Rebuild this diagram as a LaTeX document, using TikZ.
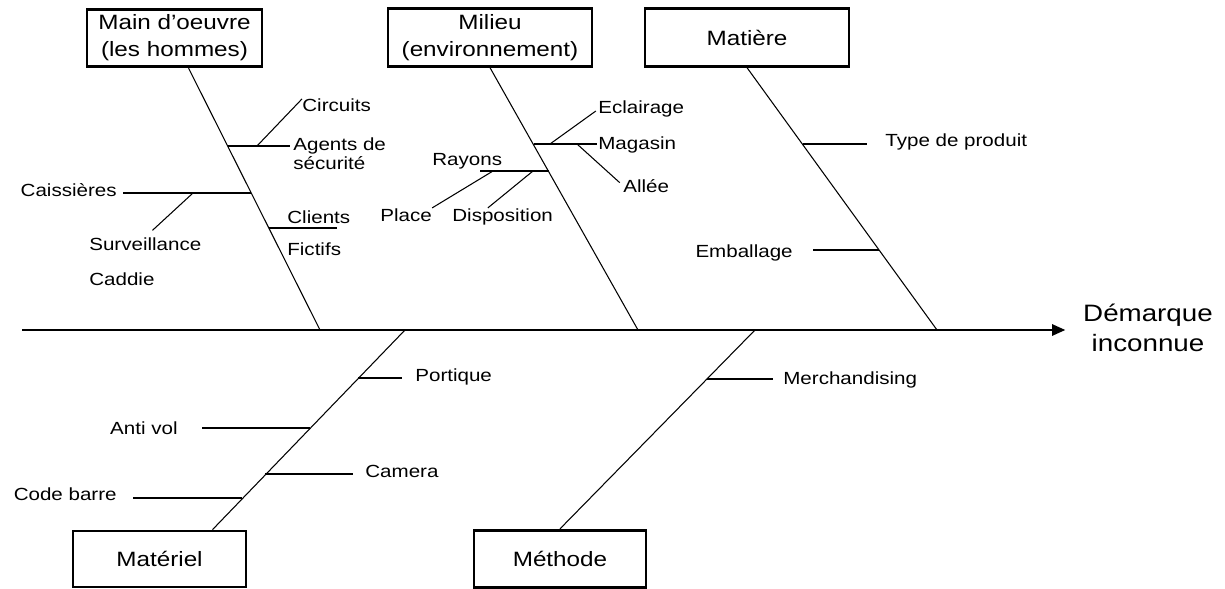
\documentclass[tikz,border=0pt]{standalone}
\usepackage{fontspec}
\setmainfont{Liberation Sans}[FakeStretch=1.17]
\usetikzlibrary{arrows.meta}

\begin{document}
\begin{tikzpicture}[
		cause/.style={draw, line width=1.6pt, inner sep=0pt, minimum height=1.15cm, align=center, font=\fontsize{11.8}{15.4}\selectfont},
		lbl/.style={inner sep=0pt, font=\fontsize{10}{10.8}\selectfont},
		bone/.style={line width=0.6pt},
		spine/.style={line width=0.9pt, -{Triangle[length=7.5pt,width=6.5pt]}}
	]
	\useasboundingbox (0,0) rectangle (24.5,-11.78);

	\node[cause, minimum width=3.5cm] (main) at (3.49,-0.76) {Main d'oeuvre\\(les hommes)};
	\node[cause, minimum width=4.08cm] (milieu) at (9.8,-0.75) {Milieu\\(environnement)};
	\node[cause, minimum width=4.08cm] (matiere) at (14.94,-0.75) {Matière};
	\node[cause, minimum width=3.46cm, minimum height=1.12cm] (materiel) at (3.19,-11.18) {Matériel};
	\node[cause, minimum width=3.44cm] (methode) at (11.2,-11.18) {Méthode};
	\node[lbl, font=\fontsize{13.5}{17}\selectfont, align=center, anchor=north] (demarque) at (22.96,-6.08) {Démarque\\inconnue};

	\coordinate (tail) at (0.44,-6.6);
	\coordinate (s1) at (6.4,-6.6);
	\coordinate (s2) at (12.76,-6.6);
	\coordinate (s3) at (18.74,-6.6);
	\coordinate (s4) at (8.1,-6.6);
	\coordinate (s5) at (15.1,-6.6);
	\draw[spine, shorten >=10pt] (tail) -- (tail -| demarque.west);
	\draw[bone] (main.-65) -- (s1);
	\draw[bone] (milieu.south) -- (s2);
	\draw[bone] (matiere.south) -- (s3);
	\draw[bone] (materiel.29) -- (s4);
	\draw[bone] (methode.north) -- (s5);

	\node[lbl, anchor=base west] (circuits) at (6.04,-2.24) {Circuits};
	\node[lbl, anchor=north west, align=left] (agents) at (5.86,-2.75) {Agents de\\sécurité};
	\node[lbl, anchor=base east] (caissieres) at (2.34,-3.94) {Caissières};
	\node[lbl, anchor=base west] (surveillance) at (1.78,-5.0) {Surveillance};
	\node[lbl, anchor=base west] (caddie) at (1.78,-5.7) {Caddie};
	\node[lbl, anchor=base west] (clients) at (5.74,-4.46) {Clients};
	\node[lbl, anchor=base west] (fictifs) at (5.74,-5.1) {Fictifs};
	\coordinate (m1) at (4.554,-2.92);
	\coordinate (c1) at (5.14,-2.92);
	\coordinate (m2) at (5.024,-3.86);
	\coordinate (sv) at (3.86,-3.86);
	\coordinate (m3) at (5.376,-4.56);
	\draw[bone, shorten >=1.7pt] (m1) -- (m1 -| agents.west);
	\draw[bone] (c1) -- (circuits.north west);
	\draw[bone, shorten >=3.4pt] (m2) -- (m2 -| caissieres.east);
	\draw[bone, shorten >=5.5pt] (sv) -- (surveillance.north);
	\draw[bone, shorten >=2.5pt] (m3) -- (m3 -| fictifs.east);

	\node[lbl, anchor=base west] (eclairage) at (11.96,-2.28) {Eclairage};
	\node[lbl, anchor=base west] (magasin) at (11.96,-3.0) {Magasin};
	\node[lbl, anchor=base west] (allee) at (12.46,-3.84) {Allée};
	\node[lbl, anchor=base west] (rayons) at (8.64,-3.3) {Rayons};
	\node[lbl, anchor=base west] (place) at (7.6,-4.42) {Place};
	\node[lbl, anchor=base west] (disposition) at (9.04,-4.42) {Disposition};
	\coordinate (e1) at (10.674,-2.88);
	\coordinate (e1a) at (11.0,-2.88);
	\coordinate (e1b) at (11.54,-2.88);
	\coordinate (e2) at (10.978,-3.42);
	\coordinate (e2w) at (9.6,-3.42);
	\coordinate (e2a) at (9.86,-3.42);
	\coordinate (e2b) at (10.66,-3.42);
	\draw[bone, shorten >=0.5pt] (e1) -- (e1 -| magasin.west);
	\draw[bone, shorten >=1.5pt] (e1a) -- (eclairage.west);
	\draw[bone, shorten >=2.5pt] (e1b) -- (allee.west);
	\draw[bone] (e2) -- (e2w);
	\draw[bone] (e2a) -- (place.north east);
	\draw[bone] (e2b) -- (disposition.150);

	\node[lbl, anchor=base west] (typeprod) at (17.7,-2.92) {Type de produit};
	\node[lbl, anchor=base east] (emballage) at (15.86,-5.14) {Emballage};
	\coordinate (t1) at (16.062,-2.88);
	\coordinate (t2) at (17.588,-5.0);
	\draw[bone, shorten >=10.2pt] (t1) -- (t1 -| typeprod.west);
	\draw[bone, shorten >=11.4pt] (t2) -- (t2 -| emballage.east);

	\node[lbl, anchor=base west] (portique) at (8.3,-7.62) {Portique};
	\node[lbl, anchor=base east] (antivol) at (3.56,-8.68) {Anti vol};
	\node[lbl, anchor=base west] (camera) at (7.3,-9.54) {Camera};
	\node[lbl, anchor=base east] (codebarre) at (2.34,-10.0) {Code barre};
	\coordinate (p1) at (7.168,-7.56);
	\coordinate (p2) at (6.198,-8.56);
	\coordinate (p3) at (5.306,-9.48);
	\coordinate (p4) at (4.84,-9.96);
	\draw[bone, shorten >=7.4pt] (p1) -- (p1 -| portique.west);
	\draw[bone, shorten >=13.7pt] (p2) -- (p2 -| antivol.east);
	\draw[bone, shorten >=6.8pt] (p3) -- (p3 -| camera.west);
	\draw[bone, shorten >=9.1pt] (p4) -- (p4 -| codebarre.east);

	\node[lbl, anchor=base west] (merch) at (15.66,-7.68) {Merchandising};
	\coordinate (h1) at (14.144,-7.58);
	\draw[bone, shorten >=5.7pt] (h1) -- (h1 -| merch.west);
\end{tikzpicture}
\end{document}
